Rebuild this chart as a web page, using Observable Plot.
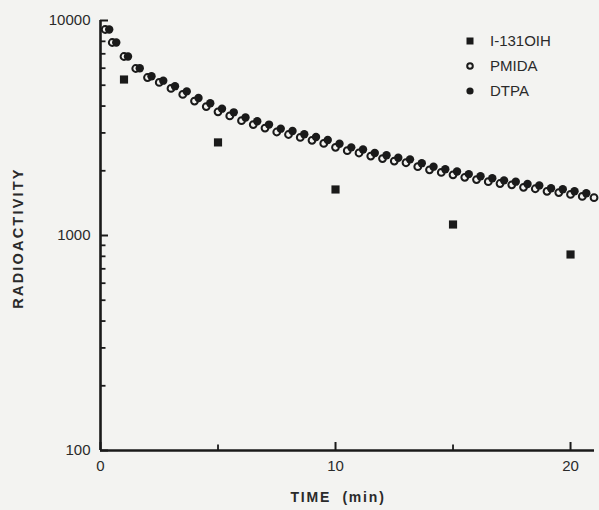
<!DOCTYPE html>
<html><head><meta charset="utf-8">
<script src="https://cdn.jsdelivr.net/npm/d3@7"></script>
<script src="https://cdn.jsdelivr.net/npm/@observablehq/plot@0.6"></script>
<style>
html,body{margin:0;padding:0;background:#f3f3f1;}
#wrap{position:relative;width:599px;height:510px;overflow:hidden;font-family:"Liberation Sans",Arial,sans-serif;color:#2a2a2a;}
#legend{position:absolute;left:460px;top:28px;font-size:15px;}
#legend .row{display:flex;align-items:center;height:25px;}
#legend svg{width:20px;height:14px;margin-right:10px;}
.ytitle{position:absolute;left:18px;top:238px;transform:translate(-50%,-50%) rotate(-90deg);font-weight:bold;font-size:14.5px;letter-spacing:2.2px;white-space:nowrap;}
.xtitle{position:absolute;left:338px;top:497px;transform:translate(-50%,-50%);font-weight:bold;font-size:14px;letter-spacing:1.8px;white-space:pre;}
</style></head><body><div id="wrap"></div>
<script>
// time points (min)
const times = [0.2,0.5,1,1.5,2,2.5,3,3.5,4,4.5,5,5.5,6,6.5,7,7.5,8,8.5,9,9.5,10,10.5,11,11.5,12,12.5,13,13.5,14,14.5,15,15.5,16,16.5,17,17.5,18,18.5,19,19.5,20,20.5,21];
// PMIDA (open circles)
const pmida = [9080,7900,6800,5980,5430,5150,4830,4530,4220,3980,3760,3600,3420,3280,3160,3030,2950,2860,2770,2680,2570,2480,2420,2340,2280,2220,2180,2090,2020,1965,1915,1865,1820,1780,1745,1720,1675,1650,1605,1583,1552,1520,1500];
// DTPA (filled circles), no point at 21 min
const dtpa = [9080,7900,6800,6000,5500,5250,4950,4680,4360,4120,3890,3740,3540,3400,3280,3140,3060,2960,2870,2780,2670,2570,2510,2420,2360,2300,2260,2170,2090,2035,1985,1930,1885,1845,1805,1780,1735,1710,1660,1640,1605,1572];
// I-131 OIH (squares)
const oihTimes = [1,5,10,15,20];
const oih = [5315,2710,1637,1125,816];
// ticks
const yMajor = [100,1000,10000];
const yMinor = [200,300,400,500,600,700,800,900,2000,3000,4000,5000,6000,7000,8000,9000];
const xMajor = [0,10,20];
const xMinor = [5,15];
const seriesNames = ["I-131OIH","PMIDA","DTPA"];

const pm = times.map((t,i)=>({t, v: pmida[i]}));
const dt = dtpa.map((v,i)=>({t: times[i], v}));
const oi = oihTimes.map((t,i)=>({t, v: oih[i]}));
const ink = "#1a1a1a";

const chart = Plot.plot({
  width: 599, height: 510,
  marginLeft: 100, marginRight: 5, marginTop: 20, marginBottom: 60,
  style: {fontFamily: "'Liberation Sans', Arial, sans-serif", fontSize: "15px", color: "#2a2a2a", background: "#f3f3f1"},
  x: {domain: [0, 21.02], label: null},
  y: {type: "log", domain: [100, 10000], label: null},
  marks: [
    Plot.axisY({ticks: yMajor, tickSize: 8, dx: 8, text: null, stroke: ink, strokeWidth: 2, label: null}),
    Plot.axisY({ticks: yMinor, tickSize: 5.5, dx: 5.5, text: null, stroke: ink, strokeWidth: 1.8, label: null}),
    Plot.axisY({ticks: yMajor, tickSize: 0, tickPadding: 10, tickFormat: d => String(d), label: null}),
    Plot.axisX({ticks: xMajor, tickSize: 8, dy: -8, text: null, stroke: ink, strokeWidth: 2, label: null}),
    Plot.axisX({ticks: xMinor, tickSize: 5.5, dy: -5.5, text: null, stroke: ink, strokeWidth: 1.8, label: null}),
    Plot.axisX({ticks: xMajor, tickSize: 0, tickPadding: 10, tickFormat: d => String(d), label: null}),
    Plot.dot(oi, {x: "t", y: "v", symbol: "square", r: 4.6, fill: ink, stroke: "none"}),
    Plot.dot(pm, {x: "t", y: "v", r: 3.4, fill: "#f3f3f1", stroke: ink, strokeWidth: 2}),
    Plot.dot(dt, {x: "t", y: "v", r: 4.2, fill: ink, stroke: "none", dx: 4}),
    Plot.ruleX([0], {stroke: ink, strokeWidth: 2.6}),
    Plot.ruleY([100], {stroke: ink, strokeWidth: 2.6})
  ]
});

const wrap = document.getElementById("wrap");
wrap.appendChild(chart);

const yt = document.createElement("div"); yt.className = "ytitle"; yt.textContent = "RADIOACTIVITY"; wrap.appendChild(yt);
const xt = document.createElement("div"); xt.className = "xtitle"; xt.textContent = "TIME  (min)"; wrap.appendChild(xt);

const legend = document.createElement("div"); legend.id = "legend";
const syms = [
  '<svg viewBox="0 0 20 14"><rect x="6.5" y="3.5" width="7" height="7" fill="'+ink+'"/></svg>',
  '<svg viewBox="0 0 20 14"><circle cx="10" cy="7" r="2.8" fill="none" stroke="'+ink+'" stroke-width="2"/></svg>',
  '<svg viewBox="0 0 20 14"><circle cx="10" cy="7" r="3.6" fill="'+ink+'"/></svg>'
];
seriesNames.forEach((n,i)=>{
  const r = document.createElement("div"); r.className = "row";
  r.innerHTML = syms[i] + '<span>' + n + '</span>';
  legend.appendChild(r);
});
wrap.appendChild(legend);
</script>
</body></html>
